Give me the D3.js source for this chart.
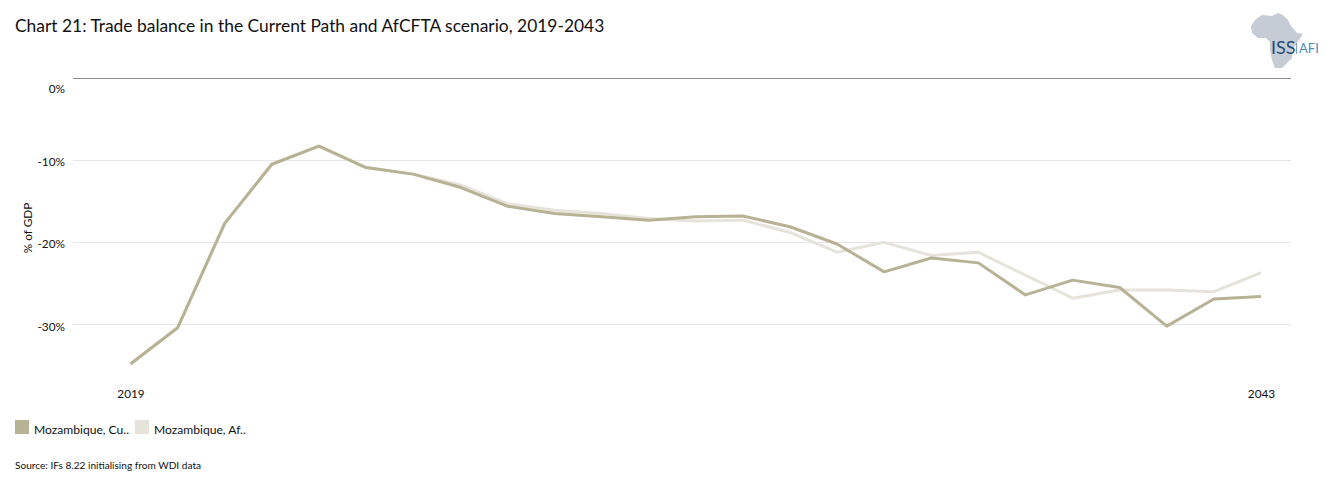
<!DOCTYPE html>
<html>
<head>
<meta charset="utf-8">
<script src="https://cdn.jsdelivr.net/npm/d3@7"></script>
<style>
  html, body { margin: 0; padding: 0; background: #fff; }
  text { font-family: Lato, "Open Sans", sans-serif; fill: #111; }
</style>
</head>
<body>
<svg id="chart"></svg>
<script>
// Values
const years = d3.range(2019, 2044);
const currentPath = [-34.8, -30.4, -17.7, -10.5, -8.3, -10.9, -11.7, -13.3, -15.6, -16.5, -16.9, -17.3, -16.9, -16.8, -18.1, -20.2, -23.6, -21.9, -22.5, -26.4, -24.6, -25.5, -30.2, -26.9, -26.6];
const afcfta = [-34.8, -30.4, -17.7, -10.5, -8.3, -10.9, -11.7, -13.0, -15.3, -16.1, -16.5, -17.1, -17.4, -17.3, -18.8, -21.2, -20.0, -21.6, -21.2, -24.0, -26.8, -25.8, -25.8, -26.0, -23.7];
const yTicks = [0, -10, -20, -30];
const xTicks = [2019, 2043];
const legendLabels = ["Mozambique, Cu..", "Mozambique, Af.."];
const colors = ["#b8b295", "#e6e3da"];

const width = 1330;
const height = 486;
const svg = d3.select("#chart")
    .attr("width", width)
    .attr("height", height)
    .style("display", "block");

const x = d3.scaleLinear().domain([2019, 2043]).range([130.5, 1261]);
const y = d3.scaleLinear().domain([0, -30]).range([78, 324.5]);

// Title
svg.append("text")
    .attr("x", 15)
    .attr("y", 32)
    .attr("font-size", 17.4)
    .text("Chart 21: Trade balance in the Current Path and AfCFTA scenario, 2019-2043");

// Gridlines
svg.append("g")
    .selectAll("line")
    .data(yTicks)
    .join("line")
    .attr("x1", 73)
    .attr("x2", 1291)
    .attr("y1", d => y(d))
    .attr("y2", d => y(d))
    .attr("stroke", d => d === 0 ? "#8c8c8c" : "#e6e6e6")
    .attr("stroke-width", 1)
    .attr("shape-rendering", "crispEdges");

// Y axis
const yAxis = svg.append("g")
    .attr("transform", "translate(65,0)")
    .call(d3.axisLeft(y).tickValues(yTicks).tickSize(0).tickPadding(0).tickFormat(d => d + "%"));
yAxis.select(".domain").remove();
yAxis.selectAll("text")
    .attr("font-size", 11.8)
    .style("font-family", "Lato, sans-serif")
    .attr("dy", d => d === 0 ? 14 : 5.5);

svg.append("text")
    .attr("transform", "translate(32,228) rotate(-90)")
    .attr("text-anchor", "middle")
    .attr("font-size", 11.8)
    .text("% of GDP");

// X axis
const xAxis = svg.append("g")
    .attr("transform", "translate(0,390)")
    .call(d3.axisBottom(x).tickValues(xTicks).tickSize(0).tickPadding(0).tickFormat(d3.format("d")));
xAxis.select(".domain").remove();
xAxis.selectAll("text")
    .attr("font-size", 11.8)
    .style("font-family", "Lato, sans-serif");

// Lines, AfCFTA goes under Current Path
const line = d3.line()
    .x((d, i) => x(years[i]))
    .y(d => y(d));

[afcfta, currentPath].forEach((values, i) => {
    svg.append("path")
        .datum(values)
        .attr("fill", "none")
        .attr("stroke", i === 0 ? colors[1] : colors[0])
        .attr("stroke-width", 3)
        .attr("stroke-linejoin", "round")
        .attr("d", line);
});

// Legend
const legendX = [15, 135];
legendLabels.forEach((label, i) => {
    svg.append("rect")
        .attr("x", legendX[i])
        .attr("y", 420)
        .attr("width", 14)
        .attr("height", 14)
        .attr("fill", colors[i]);
    svg.append("text")
        .attr("x", legendX[i] + 19)
        .attr("y", 434)
        .attr("font-size", 12.1)
        .text(label);
});

// Source
svg.append("text")
    .attr("x", 15)
    .attr("y", 469)
    .attr("font-size", 10.1)
    .text("Source: IFs 8.22 initialising from WDI data");

// Logo
const logo = svg.append("g");
logo.append("path")
    .attr("fill", "#c5ccd6")
    .attr("d", "M1262,15 L1272,16 L1278,13 L1283,15 L1288,20 L1291,26 L1297,33 L1303,34 L1297,43 L1292,50 L1292,58 L1287,63 L1282,68 L1275,68 L1272,60 L1270,50 L1270,42 L1266,38 L1258,38 L1252,33 L1251,26 L1255,20 Z");
logo.append("text")
    .attr("x", 1271)
    .attr("y", 54)
    .attr("font-size", 18)
    .style("fill", "#1f4a75")
    .text("ISS");
logo.append("line")
    .attr("x1", 1296.5)
    .attr("x2", 1296.5)
    .attr("y1", 43)
    .attr("y2", 54)
    .attr("stroke", "#7f9fbc");
logo.append("text")
    .attr("x", 1299)
    .attr("y", 53)
    .attr("font-size", 13)
    .style("fill", "#4d8ab5")
    .text("AFI");
</script>
</body>
</html>
